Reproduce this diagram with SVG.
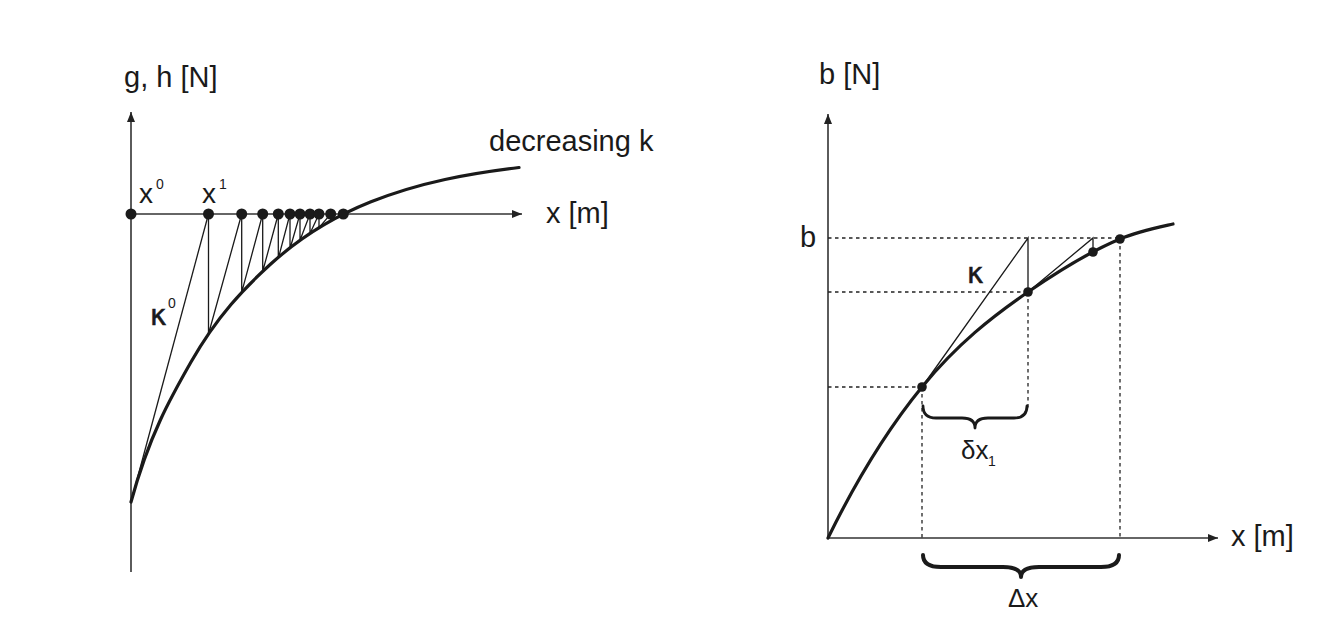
<svg xmlns="http://www.w3.org/2000/svg" width="1344" height="626" viewBox="0 0 1344 626">
<style>
.ax{stroke:#333;stroke-width:1.6;fill:none}
.crv{stroke:#1a1a1a;stroke-width:3.2;fill:none;stroke-linecap:round}
.thin{stroke:#1a1a1a;stroke-width:1.3;fill:none}
.dash{stroke:#222;stroke-width:1.3;fill:none;stroke-dasharray:3.5 3.5}
.brace{stroke:#1a1a1a;fill:none;stroke-linecap:round;stroke-linejoin:round}
.dot{fill:#1a1a1a}
text{font-family:"Liberation Sans",Arial,sans-serif;fill:#1a1a1a;font-size:29px}
.sup{font-size:14px}
.gk{font-family:"DejaVu Sans",sans-serif;font-size:28px;stroke:#1a1a1a;stroke-width:0.6}
</style>
<defs>
<marker id="arr" viewBox="0 0 10 8" refX="10" refY="4" markerWidth="10" markerHeight="8" markerUnits="userSpaceOnUse" orient="auto">
<path d="M0,0 L10,4 L0,8 z" fill="#222"/>
</marker>
</defs>

<g id="left-plot">
<g id="left-axes">
<line class="ax" x1="131" y1="572" x2="131" y2="112" marker-end="url(#arr)"/>
<line class="ax" x1="131" y1="214" x2="522" y2="214" marker-end="url(#arr)"/>
</g>
<g id="left-lines">
<line class="thin" x1="131" y1="502" x2="208.5" y2="214"/>
<path class="thin" d="M208.5,214 V334 L241.7,214 V292.4 L262.7,214 V271.4 L278.3,214 V258.5 L290,214 V248.8 L300,214 V240.3 L310,214 V233.4 L319,214 V227.6 L330.7,214 V220.8 L343.3,214"/>
</g>
<path id="left-curve" class="crv" d="M131,502 C149,435.6 171,397 191,362 C217.67,315.3 244.33,288 271,263.8 C304.33,233.5 337.67,215.1 371,201.8 C420.33,182.1 469.67,173.4 519,167.5"/>
<g id="left-dots">
<circle class="dot" cx="131" cy="214" r="5.5"/>
<circle class="dot" cx="208.5" cy="214" r="5.5"/>
<circle class="dot" cx="241.7" cy="214" r="5.5"/>
<circle class="dot" cx="262.7" cy="214" r="5.5"/>
<circle class="dot" cx="278.3" cy="214" r="5.5"/>
<circle class="dot" cx="290" cy="214" r="5.5"/>
<circle class="dot" cx="300" cy="214" r="5.5"/>
<circle class="dot" cx="310" cy="214" r="5.5"/>
<circle class="dot" cx="319" cy="214" r="5.5"/>
<circle class="dot" cx="330.7" cy="214" r="5.5"/>
<circle class="dot" cx="343.3" cy="214" r="5.5"/>
</g>
<g id="left-labels">
<text x="124" y="87">g, h [N]</text>
<text x="489" y="151">decreasing k</text>
<text x="546" y="223">x [m]</text>
<text x="139" y="203" style="font-size:28px">x</text><text class="sup" x="156" y="189">0</text>
<text x="202" y="203" style="font-size:28px">x</text><text class="sup" x="219" y="189">1</text>
<text class="gk" x="150" y="325">κ</text><text class="sup" x="168" y="308">0</text>
</g>
</g>

<g id="right-plot">
<g id="right-axes">
<line class="ax" x1="828" y1="538" x2="828" y2="114" marker-end="url(#arr)"/>
<line class="ax" x1="828" y1="538" x2="1218" y2="538" marker-end="url(#arr)"/>
</g>
<g id="right-dashed">
<line class="dash" x1="828" y1="238" x2="1120" y2="238"/>
<line class="dash" x1="828" y1="292" x2="1028" y2="292"/>
<line class="dash" x1="828" y1="387" x2="922" y2="387"/>
<line class="dash" x1="922" y1="387" x2="922" y2="538"/>
<line class="dash" x1="1028" y1="292" x2="1028" y2="408"/>
<line class="dash" x1="1120" y1="239" x2="1120" y2="538"/>
</g>
<g id="right-lines">
<path class="thin" d="M922,387 L1028,238 V292"/>
<path class="thin" d="M1028,292 L1093,238 V252"/>
</g>
<path id="right-curve" class="crv" d="M828,538 C859.33,474.1 890.67,425.3 922,387 C957.33,343.8 992.67,316.3 1028,292 C1058.67,270.9 1089.33,251.8 1120,239 C1137.67,231.6 1155.33,228 1173,224"/>
<g id="right-dots">
<circle class="dot" cx="922" cy="387" r="4.8"/>
<circle class="dot" cx="1028" cy="292" r="4.8"/>
<circle class="dot" cx="1093" cy="252" r="4.8"/>
<circle class="dot" cx="1120" cy="239" r="4.8"/>
</g>
<g id="right-braces">
<path class="brace" stroke-width="2.8" d="M923,406 Q923,418 936,418 L962,418 Q975,418 975,428 Q975,418 988,418 L1014,418 Q1027,418 1027,406"/>
<path class="brace" stroke-width="4" d="M923,555 Q923,567 941,567 L1003,567 Q1021,567 1021,577 Q1021,567 1039,567 L1101,567 Q1119,567 1119,555"/>
</g>
<g id="right-labels">
<text x="819" y="84">b [N]</text>
<text x="800" y="247">b</text>
<text class="gk" x="967" y="283">κ</text>
<text x="961" y="459" style="font-size:26px">δx</text><text class="sup" x="988" y="466">1</text>
<text x="1008" y="607" style="font-size:26px">Δx</text>
<text x="1231" y="546">x [m]</text>
</g>
</g>
</svg>
